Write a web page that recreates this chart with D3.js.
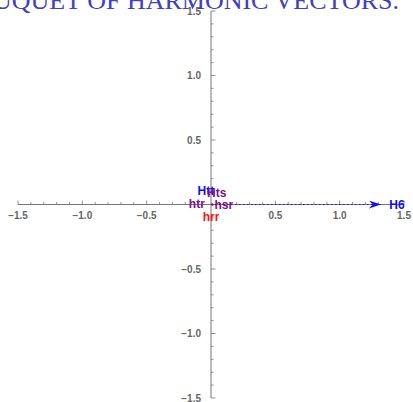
<!DOCTYPE html>
<html><head><meta charset="utf-8">
<script src="https://cdn.jsdelivr.net/npm/d3@7"></script>
<style>body{margin:0;background:#fff;}svg{display:block;}</style>
</head><body>
<script>
const titleText = "BOUQUET OF HARMONIC VECTORS.";
const majorTicks = [-1.5, -1.0, -0.5, 0.5, 1.0, 1.5];
const tickLabels = ["\u22121.5", "\u22121.0", "\u22120.5", "0.5", "1.0", "1.5"];
// vectors drawn as arrows from the origin
const vecNames = ["H6"];
const vecX = [1.32];
const vecY = [0];
// vector labels
const labelNames = ["Htt", "Hts", "htr", "hsr", "hrr", "H6"];
const labelX = [-0.04, 0.045, -0.11, 0.1, 0.0, 1.445];
const labelY = [0.105, 0.09, 0.005, 0.0, -0.095, 0.0];
const labelGroup = ["blue", "purple", "purple", "purple", "red", "blue"];

const W = 413, H = 402;
const svg = d3.select("body").append("svg").attr("width", W).attr("height", H);
const x = d3.scaleLinear().domain([-1.5, 1.5]).range([18, 404]);
const y = d3.scaleLinear().domain([-1.5, 1.5]).range([398, 11]);
const colors = {blue: "#1010f0", purple: "#82108a", red: "#ff1010"};
const axisCol = "#777";
const minorTicks = d3.range(-15, 16).map(d => d / 10).filter(d => Math.abs(d) > 1e-9);
const isMajor = d => majorTicks.some(m => Math.abs(m - d) < 1e-9);

// x axis
const gx = svg.append("g");
gx.append("line").attr("x1", x(-1.5)).attr("x2", x(1.5)).attr("y1", y(0)).attr("y2", y(0)).attr("stroke", axisCol).attr("stroke-width", 1);
gx.selectAll("line.mt").data(minorTicks).join("line").attr("class", "mt")
  .attr("x1", d => x(d)).attr("x2", d => x(d))
  .attr("y1", y(0)).attr("y2", d => y(0) - (isMajor(d) ? 4 : 2.5))
  .attr("stroke", axisCol).attr("stroke-width", 0.8);
gx.selectAll("text").data(majorTicks).join("text")
  .attr("x", d => x(d)).attr("y", y(0) + 14.5).attr("text-anchor", "middle")
  .attr("font-family", "Liberation Sans, Arial, sans-serif").attr("font-weight", "bold").attr("font-size", 10)
  .attr("fill", "#666").text((d, i) => tickLabels[i]);

// y axis
const gy = svg.append("g");
gy.append("line").attr("x1", x(0)).attr("x2", x(0)).attr("y1", y(-1.5)).attr("y2", y(1.5)).attr("stroke", axisCol).attr("stroke-width", 1);
gy.selectAll("line.mt").data(minorTicks).join("line").attr("class", "mt")
  .attr("y1", d => y(d)).attr("y2", d => y(d))
  .attr("x1", x(0)).attr("x2", d => x(0) + (isMajor(d) ? 4.5 : 2.5))
  .attr("stroke", axisCol).attr("stroke-width", 0.8);
gy.selectAll("text").data(majorTicks).join("text")
  .attr("x", x(0) - 10).attr("y", d => y(d) + 3.5).attr("text-anchor", "end")
  .attr("font-family", "Liberation Sans, Arial, sans-serif").attr("font-weight", "bold").attr("font-size", 10)
  .attr("fill", "#666").text((d, i) => tickLabels[i]);

// vectors
const defs = svg.append("defs");
defs.append("marker").attr("id", "ah").attr("viewBox", "0 0 12 8").attr("refX", 12).attr("refY", 4)
  .attr("markerWidth", 12).attr("markerHeight", 8).attr("markerUnits", "userSpaceOnUse").attr("orient", "auto")
  .append("path").attr("d", "M0,0 L12,4 L0,8 L4,4 Z").attr("fill", colors.blue);
svg.selectAll("line.vec").data(vecNames).join("line").attr("class", "vec")
  .attr("x1", x(0)).attr("y1", y(0)).attr("x2", (d, i) => x(vecX[i])).attr("y2", (d, i) => y(vecY[i]))
  .attr("stroke", colors.blue).attr("stroke-width", 1.2).attr("stroke-dasharray", "1.5,2.5")
  .attr("marker-end", "url(#ah)");

// origin point
svg.append("circle").attr("cx", x(0.01)).attr("cy", y(0)).attr("r", 1.3).attr("fill", colors.purple);

// labels
svg.selectAll("text.lbl").data(labelNames).join("text").attr("class", "lbl")
  .attr("x", (d, i) => x(labelX[i])).attr("y", (d, i) => y(labelY[i]) + 4)
  .attr("text-anchor", "middle").attr("font-family", "Liberation Sans, Arial, sans-serif")
  .attr("font-weight", "bold").attr("font-size", 12)
  .attr("fill", (d, i) => colors[labelGroup[i]]).text(d => d);

// title (clipped at the top edge, as in the reference)
svg.append("text").attr("x", 399).attr("y", 9).attr("text-anchor", "end")
  .attr("font-family", "Liberation Serif, Times New Roman, serif").attr("font-size", 26)
  .attr("fill", "#4040c4").text(titleText);
</script>
</body></html>
